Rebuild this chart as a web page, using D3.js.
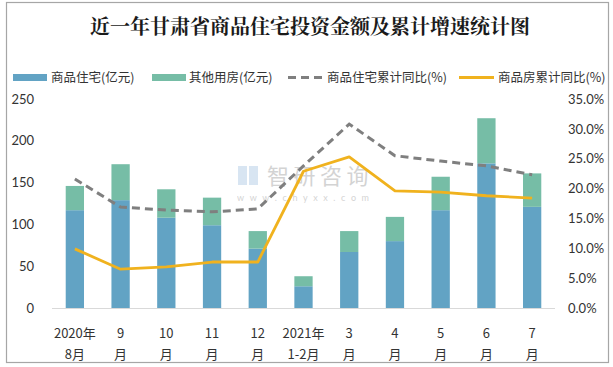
<!DOCTYPE html>
<html><head><meta charset="utf-8">
<script src="https://cdn.jsdelivr.net/npm/d3@7"></script>
<style>body{margin:0;background:#fff}svg{display:block}</style>
</head><body>
<svg id="c" width="613" height="367"></svg>
<script>
const categories = ["2020年\n8月","9\n月","10\n月","11\n月","12\n月","2021年\n1-2月","3\n月","4\n月","5\n月","6\n月","7\n月"];
const residential = [117,129,108,99,71,26,67,80,117,173,121];
const otherUse = [29,43,34,33,21,12,25,29,40,54,40];
const residentialGrowth = [21.6,16.9,16.4,16.1,16.6,23.8,30.8,25.5,24.6,23.8,22.3];
const totalGrowth = [9.9,6.5,6.9,7.7,7.7,22.9,25.3,19.6,19.4,18.8,18.4];
const leftTicks = [0,50,100,150,200,250];
const rightTicks = [0,5,10,15,20,25,30,35];
const seriesNames = ["商品住宅(亿元)","其他用房(亿元)","商品住宅累计同比(%)","商品房累计同比(%)"];
const title = "近一年甘肃省商品住宅投资金额及累计增速统计图";

const svg = d3.select("#c");
const font = "'Noto Sans CJK SC', sans-serif";
const numFont = "Lato, 'Liberation Sans', sans-serif";
const C = {blue:"#62A3C4", green:"#76BDA6", gray:"#7F7F7F", orange:"#F0B21E"};

svg.append("rect").attr("x",6.5).attr("y",2.5).attr("width",602).attr("height",360)
  .attr("fill","#fff").attr("stroke","#A6A6A6").attr("stroke-width",1.2);

svg.append("text").attr("x",310).attr("y",34).attr("text-anchor","middle")
  .attr("font-family","'Noto Serif CJK SC','Noto Sans CJK SC',serif").attr("font-weight","bold")
  .attr("font-size",20).attr("fill","#1a1a1a").text(title);

const x = d3.scaleBand().domain(d3.range(categories.length)).range([52,555]).paddingInner(0.6).paddingOuter(0.3);
const y = d3.scaleLinear().domain([0,250]).range([308,99]);
const y2 = d3.scaleLinear().domain([0,35]).range([308,99]);

// watermark
const wm = svg.append("g").attr("opacity",0.45);
wm.append("rect").attr("x",238).attr("y",166).attr("width",9).attr("height",19).attr("fill","#A9C6E3");
wm.append("rect").attr("x",249).attr("y",166).attr("width",9).attr("height",19).attr("fill","#A9C6E3");
wm.append("text").attr("x",267).attr("y",184).attr("font-family",font).attr("font-size",22)
  .attr("fill","#A0A0A0").attr("letter-spacing",4.5).text("智研咨询");
wm.append("text").attr("x",237).attr("y",201).attr("font-family",numFont).attr("font-size",9)
  .attr("fill","#A0A0A0").attr("letter-spacing",5.6).text("www.chyxx.com");

// bars
const stackData = categories.map((c,i)=>({i, a:residential[i], b:otherUse[i]}));
const stack = d3.stack().keys(["a","b"])(stackData);
const colors = [C.blue, C.green];
svg.append("g").selectAll("g").data(stack).join("g").attr("fill",(d,k)=>colors[k])
  .selectAll("rect").data(d=>d).join("rect")
  .attr("x",d=>x(d.data.i)).attr("width",x.bandwidth())
  .attr("y",d=>y(d[1])).attr("height",d=>y(d[0])-y(d[1]));

// baseline
svg.append("line").attr("x1",52).attr("x2",555).attr("y1",308.5).attr("y2",308.5)
  .attr("stroke","#D9D9D9").attr("stroke-width",1);

// lines
const line = d3.line().x((d,i)=>x(i)+x.bandwidth()/2).y(d=>y2(d));
svg.append("path").datum(residentialGrowth).attr("d",line).attr("fill","none")
  .attr("stroke",C.gray).attr("stroke-width",3).attr("stroke-dasharray","8,5");
svg.append("path").datum(totalGrowth).attr("d",line).attr("fill","none")
  .attr("stroke",C.orange).attr("stroke-width",2.8).attr("stroke-linejoin","round");

// left axis
const la = svg.append("g").attr("transform","translate(34,0)")
  .call(d3.axisLeft(y).tickValues(leftTicks).tickSize(0).tickPadding(0));
la.select(".domain").remove();
la.selectAll("text").attr("font-family",numFont).attr("font-size",13).attr("fill","#333");

// right axis
const ra = svg.append("g").attr("transform","translate(568,0)")
  .call(d3.axisRight(y2).tickValues(rightTicks).tickSize(0).tickPadding(0).tickFormat(d=>d.toFixed(1)+"%"));
ra.select(".domain").remove();
ra.selectAll("text").attr("font-family",numFont).attr("font-size",13).attr("fill","#333");

// x labels
const xl = svg.append("g");
categories.forEach((c,i)=>{
  const parts = c.split("\n");
  parts.forEach((p,j)=>{
    xl.append("text").attr("x",x(i)+x.bandwidth()/2).attr("y",338+j*21)
      .attr("text-anchor","middle").attr("font-family",font).attr("font-size",13)
      .attr("fill","#333").text(p);
  });
});

// legend
const legendItems = [
  {name:seriesNames[0], color:C.blue, type:"bar", sx:13, tx:51},
  {name:seriesNames[1], color:C.green, type:"bar", sx:152, tx:189},
  {name:seriesNames[2], color:C.gray, type:"dash", sx:288, tx:327},
  {name:seriesNames[3], color:C.orange, type:"line", sx:459, tx:498},
];
const lg = svg.append("g");
legendItems.forEach(d=>{
  if(d.type==="bar"){
    lg.append("rect").attr("x",d.sx).attr("y",74).attr("width",34).attr("height",7).attr("fill",d.color);
  } else {
    lg.append("line").attr("x1",d.sx).attr("x2",d.sx+35).attr("y1",77.5).attr("y2",77.5)
      .attr("stroke",d.color).attr("stroke-width",3)
      .attr("stroke-dasharray",d.type==="dash"?"8,5":null);
  }
  lg.append("text").attr("x",d.tx).attr("y",82).attr("font-family",font).attr("font-size",12.5)
    .attr("fill","#333").text(d.name);
});
</script>
</body></html>
